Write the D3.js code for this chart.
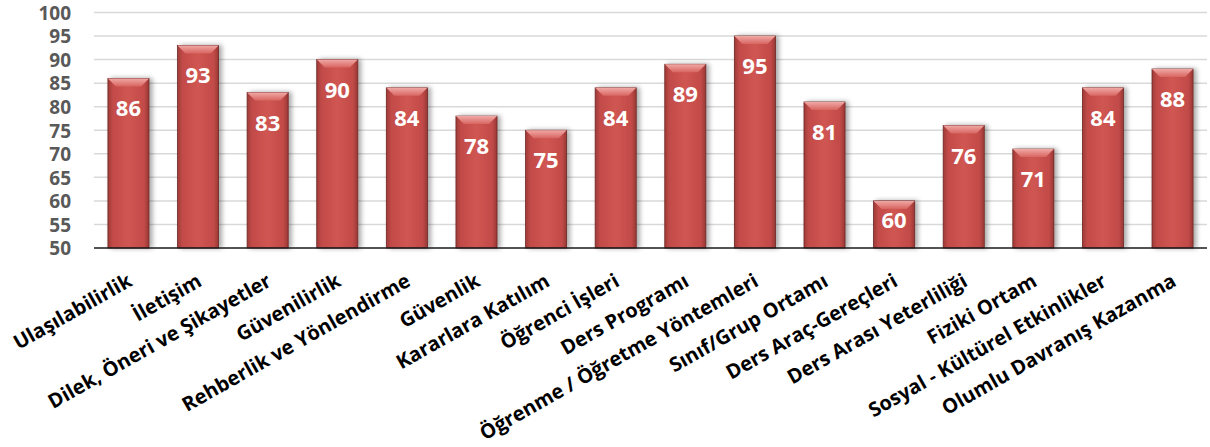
<!DOCTYPE html>
<html>
<head>
<meta charset="utf-8">
<script src="https://cdn.jsdelivr.net/npm/d3@7"></script>
<style>
  body { margin: 0; background: #fff; }
  svg { display: block; }
  text { font-family: "Open Sans", "Noto Sans", sans-serif; font-weight: bold; }
</style>
</head>
<body>
<svg class="chart-svg" width="1210" height="447"></svg>
<script>
var categories = [
    "Ulaşılabilirlik", "İletişim", "Dilek, Öneri ve Şikayetler", "Güvenilirlik",
    "Rehberlik ve Yönlendirme", "Güvenlik", "Kararlara Katılım", "Öğrenci İşleri",
    "Ders Programı", "Öğrenme / Öğretme Yöntemleri", "Sınıf/Grup Ortamı",
    "Ders Araç-Gereçleri", "Ders Arası Yeterliliği", "Fiziki Ortam",
    "Sosyal - Kültürel Etkinlikler", "Olumlu Davranış Kazanma"
];
var values = [86, 93, 83, 90, 84, 78, 75, 84, 89, 95, 81, 60, 76, 71, 84, 88];
var yTicks = [50, 55, 60, 65, 70, 75, 80, 85, 90, 95, 100];

var svg = d3.select(".chart-svg");
var plotLeft = 94, plotRight = 1207, plotTop = 12.5, plotBottom = 248;

var x = d3.scaleBand().domain(categories).range([plotLeft, plotRight]).paddingInner(0.41).paddingOuter(0.2);
var y = d3.scaleLinear().domain([50, 100]).range([plotBottom, plotTop]);

// gradients for the bars
var defs = svg.append("defs");
var g1 = defs.append("linearGradient").attr("id", "barGrad").attr("x1", 0).attr("x2", 1).attr("y1", 0).attr("y2", 0);
g1.append("stop").attr("offset", "0%").attr("stop-color", "#9e3b38");
g1.append("stop").attr("offset", "12%").attr("stop-color", "#c24b48");
g1.append("stop").attr("offset", "50%").attr("stop-color", "#d05652");
g1.append("stop").attr("offset", "88%").attr("stop-color", "#c24b48");
g1.append("stop").attr("offset", "100%").attr("stop-color", "#9a3835");
var g2 = defs.append("linearGradient").attr("id", "bevelGrad").attr("x1", 0).attr("x2", 0).attr("y1", 0).attr("y2", 1);
g2.append("stop").attr("offset", "0%").attr("stop-color", "#f0a8a5");
g2.append("stop").attr("offset", "100%").attr("stop-color", "#d86560");
var shadow = defs.append("filter").attr("id", "shadow").attr("x", "-30%").attr("width", "160%");
shadow.append("feGaussianBlur").attr("in", "SourceAlpha").attr("stdDeviation", 2.5);
shadow.append("feOffset").attr("dx", 3).attr("dy", 0).attr("result", "b");
shadow.append("feComponentTransfer").append("feFuncA").attr("type", "linear").attr("slope", 0.35);
var merge = shadow.append("feMerge");
merge.append("feMergeNode");
merge.append("feMergeNode").attr("in", "SourceGraphic");

// grid lines
svg.append("g")
    .selectAll("line")
    .data(yTicks.slice(1)).enter()
    .append("line")
    .attr("x1", plotLeft).attr("x2", plotRight)
    .attr("y1", function(d) { return y(d) })
    .attr("y2", function(d) { return y(d) })
    .attr("stroke", "#d9d9d9")
    .attr("stroke-width", 1.5);

// y axis labels
var yAxis = d3.axisLeft(y).tickValues(yTicks).tickSize(0).tickPadding(0);
var yG = svg.append("g").attr("transform", "translate(71,0)").call(yAxis);
yG.select(".domain").remove();
yG.selectAll("text")
    .attr("fill", "#595959")
    .style("font-size", "19px")
    .style("font-weight", "bold")
    .style("font-family", "\"Open Sans\", sans-serif")
    .attr("dy", "0.36em");

// bars
var bars = svg.append("g")
    .selectAll("g")
    .data(values).enter()
    .append("g")
    .attr("filter", "url(#shadow)");

bars.append("rect")
    .attr("x", function(d, i) { return x(categories[i]) })
    .attr("y", function(d) { return y(d) })
    .attr("width", x.bandwidth())
    .attr("height", function(d) { return plotBottom - y(d) })
    .attr("fill", "url(#barGrad)")
    .attr("stroke", "#6e2624")
    .attr("stroke-width", 0.8);

// bevel on the top of each bar
bars.append("path")
    .attr("d", function(d, i) {
        var x0 = x(categories[i]), w = x.bandwidth(), t = y(d), b = 8;
        return "M" + x0 + "," + t + "L" + (x0 + w) + "," + t +
            "L" + (x0 + w - b) + "," + (t + b) + "L" + (x0 + b) + "," + (t + b) + "Z";
    })
    .attr("fill", "url(#bevelGrad)");

// baseline
svg.append("line")
    .attr("x1", plotLeft).attr("x2", plotRight)
    .attr("y1", plotBottom).attr("y2", plotBottom)
    .attr("stroke", "#1a1a1a")
    .attr("stroke-width", 1.5);

// value labels
svg.append("g")
    .selectAll("text")
    .data(values).enter()
    .append("text")
    .attr("x", function(d, i) { return x(categories[i]) + x.bandwidth() / 2 })
    .attr("y", function(d) { return Math.min(y(d) + 38, plotBottom - 20) })
    .attr("text-anchor", "middle")
    .attr("fill", "#ffffff")
    .style("font-size", "22px")
    .text(function(d) { return d });

// category labels
svg.append("g")
    .selectAll("text")
    .data(categories).enter()
    .append("text")
    .attr("transform", function(d) {
        return "translate(" + (x(d) + x.bandwidth() / 2 + 5) + ",285) rotate(-29.5)";
    })
    .attr("text-anchor", "end")
    .attr("fill", "#000")
    .style("font-size", "20px")
    .text(function(d) { return d });
</script>
</body>
</html>
